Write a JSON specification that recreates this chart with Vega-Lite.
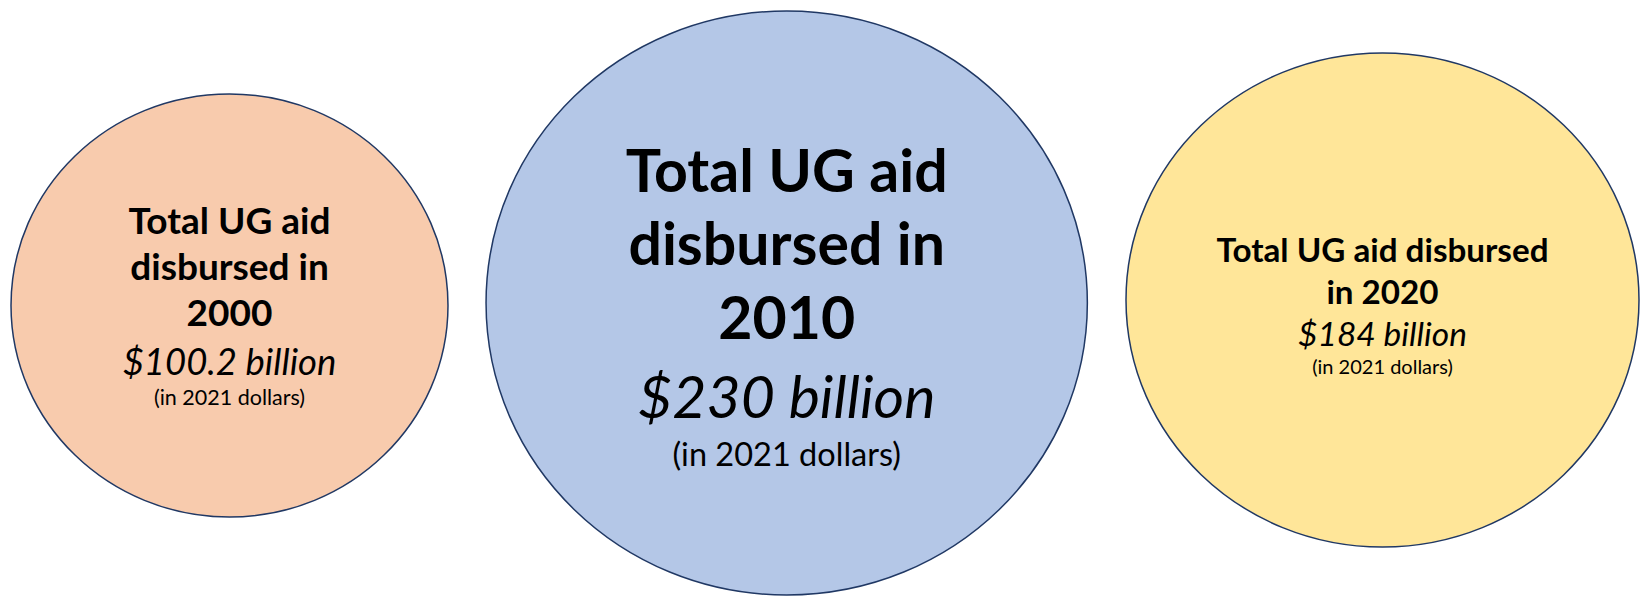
{
  "$schema": "https://vega.github.io/schema/vega-lite/v6.json",
  "autosize": {"type": "fit", "contains": "padding"},
  "width": 1640,
  "height": 597,
  "padding": 0,
  "background": "white",
  "config": {"view": {"stroke": null}},
  "datasets": {
    "circles": [
      {"year": 2000, "amount": 100.2},
      {"year": 2010, "amount": 230},
      {"year": 2020, "amount": 184}
    ],
    "lines": [
      {"year": 2000, "line": 1, "role": "heading", "text": "Total UG aid"},
      {"year": 2000, "line": 2, "role": "heading", "text": "disbursed in"},
      {"year": 2000, "line": 3, "role": "heading", "text": "2000"},
      {"year": 2000, "line": 4, "role": "amount", "text": "$100.2 billion"},
      {"year": 2000, "line": 5, "role": "note", "text": "(in 2021 dollars)"},
      {"year": 2010, "line": 1, "role": "heading", "text": "Total UG aid"},
      {"year": 2010, "line": 2, "role": "heading", "text": "disbursed in"},
      {"year": 2010, "line": 3, "role": "heading", "text": "2010"},
      {"year": 2010, "line": 4, "role": "amount", "text": "$230 billion"},
      {"year": 2010, "line": 5, "role": "note", "text": "(in 2021 dollars)"},
      {"year": 2020, "line": 1, "role": "heading", "text": "Total UG aid disbursed"},
      {"year": 2020, "line": 2, "role": "heading", "text": "in 2020"},
      {"year": 2020, "line": 3, "role": "amount", "text": "$184 billion"},
      {"year": 2020, "line": 4, "role": "note", "text": "(in 2021 dollars)"}
    ]
  },
  "layer": [
    {
      "data": {"name": "circles"},
      "mark": {"type": "point", "filled": true, "stroke": "#203864", "strokeWidth": 1.5, "opacity": 1, "fillOpacity": 1, "strokeOpacity": 1},
      "encoding": {
        "x": {"field": "year", "type": "quantitative", "axis": null, "scale": {"domain": [2000, 2010, 2020], "range": [229.5, 786.7, 1382.5], "zero": false, "nice": false}},
        "y": {"field": "year", "type": "quantitative", "axis": null, "scale": {"domain": [2000, 2010, 2020], "range": [305.5, 303, 300], "zero": false, "nice": false}},
        "size": {"field": "year", "type": "quantitative", "legend": null, "scale": {"domain": [2000, 2010, 2020], "range": [190969, 361562, 263169], "zero": false, "nice": false}},
        "shape": {"field": "year", "type": "nominal", "legend": null, "scale": {"domain": [2000, 2010, 2020], "range": [
          "M-1,0C-1,-0.5346,-0.5523,-0.968,0,-0.968C0.5523,-0.968,1,-0.5346,1,0C1,0.5346,0.5523,0.968,0,0.968C-0.5523,0.968,-1,0.5346,-1,0Z",
          "M-1,0C-1,-0.5363,-0.5523,-0.971,0,-0.971C0.5523,-0.971,1,-0.5363,1,0C1,0.5363,0.5523,0.971,0,0.971C-0.5523,0.971,-1,0.5363,-1,0Z",
          "M-1,0C-1,-0.5319,-0.5523,-0.963,0,-0.963C0.5523,-0.963,1,-0.5319,1,0C1,0.5319,0.5523,0.963,0,0.963C-0.5523,0.963,-1,0.5319,-1,0Z"
        ]}},
        "fill": {"field": "year", "type": "nominal", "legend": null, "scale": {"domain": [2000, 2010, 2020], "range": ["#F8CBAD", "#B4C7E7", "#FFE699"]}}
      }
    },
    {
      "data": {"name": "lines"},
      "transform": [{"filter": "datum.year == 2000"}],
      "encoding": {
        "x": {"field": "year", "type": "quantitative", "axis": null, "scale": {"domain": [2000, 2010, 2020], "range": [229.5, 786.7, 1382.5], "zero": false, "nice": false}},
        "y": {"field": "line", "type": "quantitative", "axis": null, "scale": {"domain": [1, 2, 3, 4, 5], "range": [234, 280, 326, 375, 405], "zero": false, "nice": false}},
        "text": {"field": "text", "type": "nominal"}
      },
      "layer": [
        {"transform": [{"filter": "datum.role == 'heading'"}], "mark": {"type": "text", "font": "Lato", "fontSize": 37, "fontWeight": "bold", "align": "center", "baseline": "alphabetic", "color": "#000000"}},
        {"transform": [{"filter": "datum.role == 'amount'"}], "mark": {"type": "text", "font": "Lato", "fontSize": 36.5, "fontStyle": "italic", "align": "center", "baseline": "alphabetic", "color": "#000000"}},
        {"transform": [{"filter": "datum.role == 'note'"}], "mark": {"type": "text", "font": "Lato", "fontSize": 21.5, "align": "center", "baseline": "alphabetic", "color": "#000000"}}
      ]
    },
    {
      "data": {"name": "lines"},
      "transform": [{"filter": "datum.year == 2010"}],
      "encoding": {
        "x": {"field": "year", "type": "quantitative", "axis": null, "scale": {"domain": [2000, 2010, 2020], "range": [229.5, 786.7, 1382.5], "zero": false, "nice": false}},
        "y": {"field": "line", "type": "quantitative", "axis": null, "scale": {"domain": [1, 2, 3, 4, 5], "range": [191.7, 265, 339, 418, 466], "zero": false, "nice": false}},
        "text": {"field": "text", "type": "nominal"}
      },
      "layer": [
        {"transform": [{"filter": "datum.role == 'heading'"}], "mark": {"type": "text", "font": "Lato", "fontSize": 59, "fontWeight": "bold", "align": "center", "baseline": "alphabetic", "color": "#000000"}},
        {"transform": [{"filter": "datum.role == 'amount'"}], "mark": {"type": "text", "font": "Lato", "fontSize": 59, "fontStyle": "italic", "align": "center", "baseline": "alphabetic", "color": "#000000"}},
        {"transform": [{"filter": "datum.role == 'note'"}], "mark": {"type": "text", "font": "Lato", "fontSize": 32.5, "align": "center", "baseline": "alphabetic", "color": "#000000"}}
      ]
    },
    {
      "data": {"name": "lines"},
      "transform": [{"filter": "datum.year == 2020"}],
      "encoding": {
        "x": {"field": "year", "type": "quantitative", "axis": null, "scale": {"domain": [2000, 2010, 2020], "range": [229.5, 786.7, 1382.5], "zero": false, "nice": false}},
        "y": {"field": "line", "type": "quantitative", "axis": null, "scale": {"domain": [1, 2, 3, 4], "range": [261.5, 304, 346, 374], "zero": false, "nice": false}},
        "text": {"field": "text", "type": "nominal"}
      },
      "layer": [
        {"transform": [{"filter": "datum.role == 'heading'"}], "mark": {"type": "text", "font": "Lato", "fontSize": 33.2, "fontWeight": "bold", "align": "center", "baseline": "alphabetic", "color": "#000000"}},
        {"transform": [{"filter": "datum.role == 'amount'"}], "mark": {"type": "text", "font": "Lato", "fontSize": 33.5, "fontStyle": "italic", "align": "center", "baseline": "alphabetic", "color": "#000000"}},
        {"transform": [{"filter": "datum.role == 'note'"}], "mark": {"type": "text", "font": "Lato", "fontSize": 20, "align": "center", "baseline": "alphabetic", "color": "#000000"}}
      ]
    }
  ],
  "resolve": {"scale": {"y": "independent"}}
}
